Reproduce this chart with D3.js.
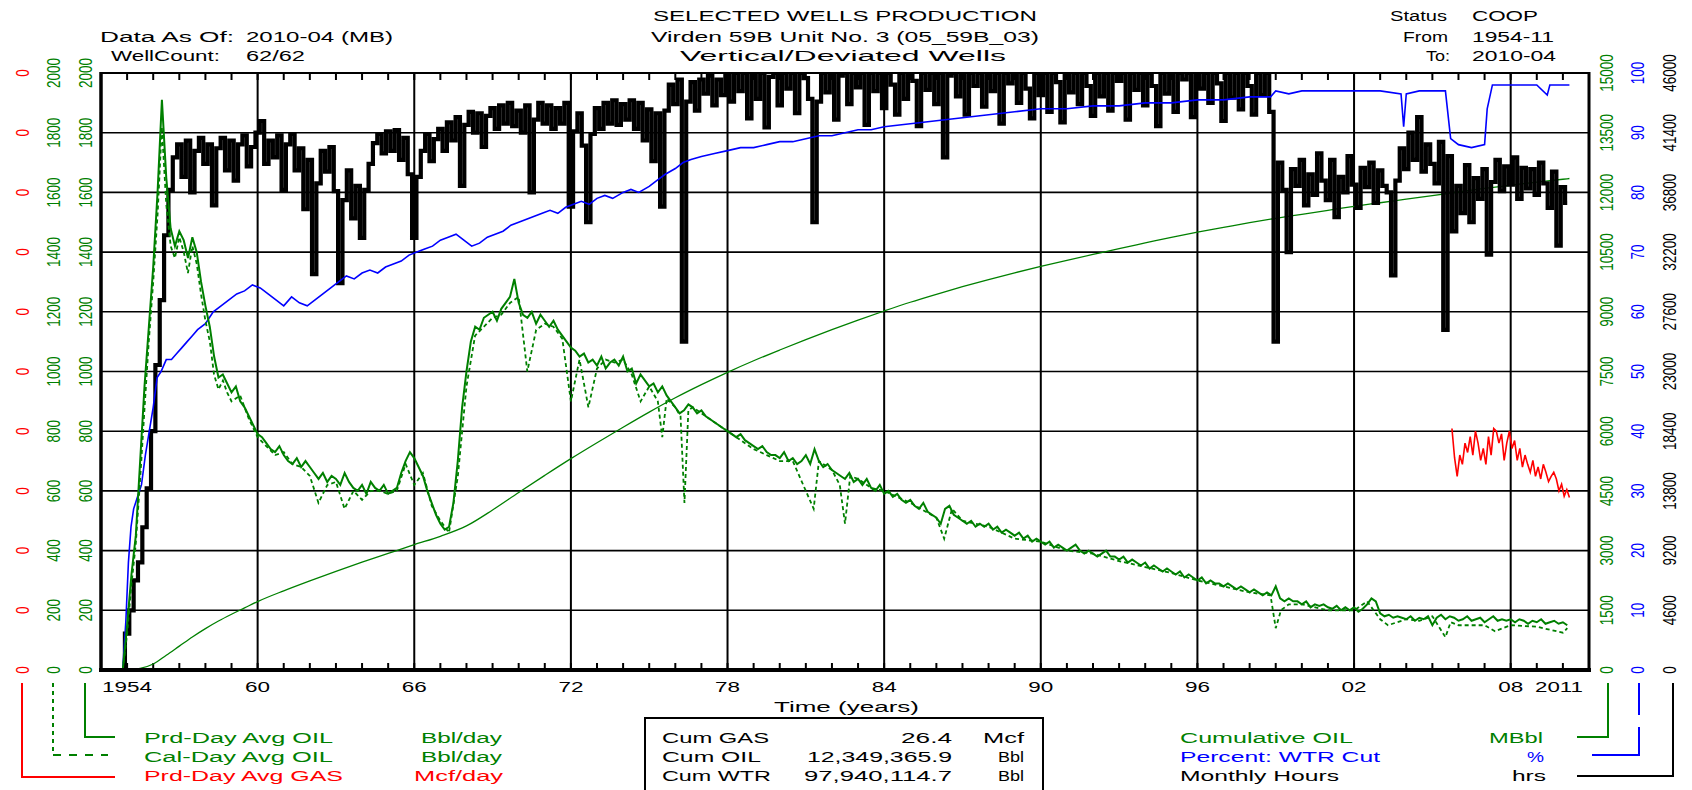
<!DOCTYPE html>
<html><head><meta charset="utf-8">
<script src="https://cdn.jsdelivr.net/npm/d3@7/dist/d3.min.js"></script>
<style>
body{margin:0;background:#fff;}
text{font-family:"Liberation Sans",Arial,sans-serif;}
</style>
</head><body>
<svg id="chart" width="1692" height="790"></svg>
<script>
// ---------------- DATA ----------------
// Monthly hours & producing-day oil, sampled every 2 months from 1954-11
const seriesStart = [1954, 11];
const stepMonths = 2;
const hours = [
0,2800,4600,6900,8300,11000,
14000,18400,23500,28500,33500,37000,
39500,40500,38000,40800,36800,40000,
41000,39000,40500,35800,40200,41000,
38500,40800,37700,40500,41200,38800,
40300,41400,42300,39000,40800,39500,
41200,37000,40500,41300,38500,40200,
35500,39300,30500,37500,40000,38400,
40300,36900,29800,36200,38500,34800,
37300,33300,37000,39000,40600,41300,
39800,41500,40000,41600,39300,41000,
38200,33300,38000,40000,41300,39200,
40900,41700,40000,42200,40800,42600,
37300,42000,43000,41400,42900,40300,
42700,43300,41700,43500,42100,43700,
41900,43100,41400,43500,36800,42400,
43700,42100,43500,41700,43300,42100,
43700,35700,41500,42900,40400,34500,
41300,43300,41700,43700,42100,43900,
42000,43600,42400,43900,41700,43700,
40800,43200,39200,42900,35700,43100,
45100,43600,45500,25300,43800,45300,
43100,45500,44400,45800,43500,45500,
44300,46000,43800,46000,44600,46000,
42500,46000,44000,46000,41800,45700,
46000,43500,46000,44800,46000,42900,
46000,45600,44000,34500,43800,46000,
44500,46000,42400,45800,46000,43600,
46000,44900,46000,42000,46000,44600,
46000,43300,46000,45100,42800,46000,
44000,46000,45400,41900,46000,44700,
46000,43600,46000,39500,45800,46000,
44200,46000,42800,46000,45000,46000,
43400,46000,44600,46000,42100,46000,
45200,46000,43700,46000,44800,42500,
46000,44300,46000,43000,46000,45300,
42200,46000,44500,46000,43600,46000,
45000,42700,46000,44200,46000,43100,
46000,45400,46000,42400,46000,44700,
46000,43500,46000,45000,41900,46000,
44400,46000,43000,46000,45500,46000,
42600,46000,44800,46000,43700,46000,
45200,42300,46000,44100,46000,43200,
46000,45000,42800,46000,44300,46000,
43000,25300,39100,37000,32200,38600,
37300,39300,35800,38200,36600,39800,
37700,36200,39300,34900,38000,36800,
39600,37400,35600,38700,37200,39100,
36000,38500,37300,36800,30400,37700,
40200,38600,41400,39300,42600,38400,
40500,39000,37500,40700,26200,39600,
33800,37300,35200,38900,34500,37900,
36300,38600,32000,37600,39300,36900,
38800,37400,39500,36300,38700,37100,
38600,36600,39100,37500,35600,38400,
32700,37200,36000];

const prdOil = [
0,150,320,450,700,950,
1150,1350,1600,1910,1650,1480,
1420,1470,1440,1380,1450,1400,
1300,1220,1150,1050,980,990,
960,930,950,900,880,850,
820,790,780,760,740,730,
750,720,700,690,710,680,
700,680,660,640,660,630,
650,640,620,660,630,610,
600,620,590,630,610,600,
620,590,600,610,660,700,
730,710,680,650,600,560,
520,490,470,480,560,700,
880,1000,1100,1150,1140,1180,
1190,1200,1170,1210,1230,1250,
1310,1230,1190,1180,1200,1160,
1190,1170,1150,1170,1140,1120,
1100,1080,1070,1050,1060,1030,
1040,1020,1050,1010,1030,1040,
1020,1050,1000,1010,960,990,
970,950,960,930,950,920,
900,880,860,870,890,880,
860,870,850,840,830,820,
810,800,790,780,790,770,
760,750,740,750,730,720,
720,710,730,700,710,690,
700,720,690,740,700,680,
690,670,660,650,640,660,
630,640,620,640,610,600,
620,590,600,580,590,570,
560,570,550,540,560,530,
520,510,490,540,550,520,
510,500,490,500,480,490,
480,490,470,480,460,470,
460,450,460,440,450,430,
440,430,420,430,410,420,
410,400,410,420,400,390,
400,390,380,390,400,380,
380,370,380,360,370,360,
350,360,340,350,340,330,
340,330,320,330,310,320,
310,300,310,290,300,290,
290,280,290,280,270,280,
270,260,270,260,250,260,
250,280,240,230,240,230,
230,220,230,210,220,215,
220,210,205,215,200,210,
200,210,195,205,220,240,
230,190,180,185,175,180,
175,170,180,165,175,170,
180,150,175,185,170,180,
175,165,170,180,165,170,
175,160,170,180,165,170,
165,170,160,170,165,155,
165,160,170,155,160,165,
155,160,150];

// [year, value] pairs
const calOil = [[1954.83,0],[1955.0,120],[1955.17,290],[1955.33,420],[1955.5,640],[1955.67,880],[1955.83,1100],[1956.0,1300],[1956.17,1530],[1956.33,1820],[1956.5,1560],[1956.67,1420],[1956.83,1380],[1957.0,1450],[1957.17,1400],[1957.33,1330],[1957.5,1420],[1957.67,1360],[1957.83,1260],[1958.0,1170],[1958.17,1100],[1958.33,990],[1958.5,940],[1958.67,970],[1958.83,930],[1959.0,900],[1959.33,920],[1959.67,840],[1960.0,780],[1960.33,750],[1960.67,720],[1961.0,730],[1961.33,690],[1961.67,680],[1962.0,650],[1962.33,560],[1962.67,620],[1963.0,630],[1963.33,540],[1963.67,600],[1964.0,570],[1964.33,600],[1964.67,600],[1965.0,590],[1965.33,600],[1965.67,690],[1966.0,620],[1966.33,660],[1966.67,550],[1967.0,500],[1967.33,460],[1967.67,650],[1968.0,950],[1968.33,1120],[1968.67,1150],[1969.0,1180],[1969.33,1190],[1969.67,1230],[1970.0,1250],[1970.33,1000],[1970.67,1140],[1971.0,1160],[1971.33,1150],[1971.67,1110],[1972.0,900],[1972.33,1040],[1972.67,880],[1973.0,1010],[1973.33,1040],[1973.67,1030],[1974.0,1040],[1974.33,990],[1974.67,900],[1975.0,950],[1975.33,900],[1975.5,780],[1975.67,910],[1976.0,880],[1976.2,850],[1976.35,560],[1976.5,870],[1976.67,880],[1977.0,860],[1977.5,830],[1978.0,800],[1978.5,770],[1979.0,740],[1979.5,720],[1980.0,700],[1980.5,700],[1981.3,540],[1981.5,700],[1982.0,670],[1982.3,620],[1982.5,490],[1982.7,650],[1983.0,640],[1983.5,610],[1984.0,600],[1985.0,560],[1986.0,510],[1986.3,440],[1986.6,540],[1987.0,500],[1988.0,480],[1989.0,440],[1990.0,430],[1991.0,400],[1992.0,390],[1993.0,365],[1994.0,345],[1995.0,325],[1996.0,300],[1997.0,280],[1998.0,260],[1998.8,250],[1999.0,140],[1999.2,200],[1999.5,220],[2000.0,220],[2001.0,200],[2002.0,200],[2002.5,230],[2003.0,170],[2003.3,150],[2004.0,170],[2004.5,165],[2005.0,180],[2005.5,110],[2005.7,160],[2006.0,150],[2007.0,150],[2007.4,130],[2008.0,150],[2009.0,145],[2010.0,125],[2010.17,140]];

const waterCut = [[1954.83,0],[1954.95,8],[1955.05,18],[1955.15,24],[1955.25,27],[1955.4,29],[1955.55,31],[1955.7,36],[1955.85,40],[1956.0,44],[1956.15,49],[1956.3,50],[1956.5,52],[1956.7,52],[1956.9,53],[1957.1,54],[1957.3,55],[1957.5,56],[1957.7,57],[1958.0,58],[1958.3,60],[1958.6,61],[1958.9,62],[1959.2,63],[1959.5,63.5],[1959.8,64.5],[1960.1,64],[1960.4,63],[1960.7,62],[1961.0,61],[1961.3,62.5],[1961.6,61.5],[1961.9,61],[1962.2,62],[1962.5,63],[1962.8,64],[1963.1,65],[1963.4,66],[1963.7,65.5],[1964.0,66.5],[1964.3,67],[1964.6,66.5],[1964.9,67.5],[1965.2,68],[1965.5,68.5],[1965.8,69.5],[1966.1,70],[1966.4,70.5],[1966.7,71],[1967.0,72],[1967.3,72.5],[1967.6,73],[1967.9,72],[1968.2,71],[1968.5,71.5],[1968.8,72.5],[1969.1,73],[1969.4,73.5],[1969.7,74.5],[1970.0,75],[1970.3,75.5],[1970.6,76],[1970.9,76.5],[1971.2,77],[1971.5,76.5],[1971.8,77.5],[1972.1,78],[1972.4,78.5],[1972.7,78],[1973.0,79],[1973.3,79.5],[1973.6,79],[1974.0,80],[1974.3,80.5],[1974.6,80],[1975.0,81],[1975.3,82],[1975.6,83],[1976.0,84],[1976.3,85],[1976.6,85.5],[1977.0,86],[1977.5,86.5],[1978.0,87],[1978.5,87.5],[1979.0,87.5],[1979.5,88],[1980.0,88.5],[1980.5,88.5],[1981.0,89],[1981.5,89.5],[1982.0,89.5],[1982.5,90],[1983.0,90.5],[1983.5,90.5],[1984.0,91],[1985.0,91.5],[1986.0,92],[1987.0,92.5],[1988.0,93],[1989.0,93.5],[1990.0,94],[1991.0,94],[1992.0,94.5],[1993.0,94.5],[1994.0,95],[1995.0,95],[1996.0,95.5],[1997.0,95.5],[1998.0,96],[1998.8,96],[1999.0,97],[1999.5,96.5],[2000.0,97],[2001.0,97],[2002.0,97],[2003.0,97],[2003.8,96.5],[2003.9,91],[2004.0,96.5],[2004.5,97],[2005.0,97],[2005.5,97],[2005.7,89],[2006.0,88],[2006.5,87.5],[2007.0,88],[2007.1,94],[2007.3,98],[2008.0,98],[2009.0,98],[2009.4,96.3],[2009.5,98],[2010.0,98],[2010.25,98]];

const cumOil = [[1954.83,0],[1955.5,40],[1956,150],[1956.5,370],[1957,600],[1957.5,830],[1958,1040],[1958.5,1230],[1959,1400],[1959.5,1560],[1960,1720],[1961,1990],[1962,2240],[1963,2480],[1964,2710],[1965,2930],[1966,3150],[1967,3360],[1968,3620],[1969,4020],[1970,4460],[1971,4890],[1972,5310],[1973,5710],[1974,6100],[1975,6480],[1976,6840],[1977,7170],[1978,7480],[1979,7770],[1980,8040],[1981,8300],[1982,8550],[1983,8790],[1984,9020],[1985,9240],[1986,9440],[1987,9630],[1988,9810],[1989,9980],[1990,10140],[1991,10290],[1992,10440],[1993,10590],[1994,10730],[1995,10870],[1996,11000],[1997,11120],[1998,11240],[1999,11350],[2000,11450],[2001,11550],[2002,11650],[2003,11740],[2004,11830],[2005,11920],[2006,12010],[2007,12100],[2008,12180],[2009,12260],[2010,12330],[2010.25,12349]];

const prdGas = [[2005.75,0.0182],[2005.85,0.0160],[2005.95,0.0146],[2006.05,0.0162],[2006.15,0.0155],[2006.25,0.0171],[2006.35,0.0164],[2006.45,0.0176],[2006.55,0.0162],[2006.65,0.0180],[2006.75,0.0171],[2006.85,0.0158],[2006.95,0.0167],[2007.05,0.0155],[2007.15,0.0176],[2007.25,0.0162],[2007.35,0.0182],[2007.45,0.0180],[2007.55,0.0171],[2007.65,0.0178],[2007.75,0.0158],[2007.85,0.0171],[2007.95,0.0180],[2008.05,0.0167],[2008.15,0.0173],[2008.25,0.0158],[2008.35,0.0167],[2008.45,0.0153],[2008.55,0.0162],[2008.65,0.0155],[2008.75,0.0149],[2008.85,0.0158],[2008.95,0.0146],[2009.05,0.0153],[2009.15,0.0144],[2009.25,0.0155],[2009.35,0.0149],[2009.45,0.0142],[2009.55,0.0146],[2009.65,0.0149],[2009.75,0.0144],[2009.85,0.0135],[2009.95,0.0140],[2010.05,0.0131],[2010.15,0.0136],[2010.25,0.0130]];

// axes
const oilTicks = [0,200,400,600,800,1000,1200,1400,1600,1800,2000];
const gasTicks = [0,0.0045,0.009,0.0135,0.018,0.0225,0.027,0.0315,0.036,0.0405,0.045];
const cumTicks = [0,1500,3000,4500,6000,7500,9000,10500,12000,13500,15000];
const cutTicks = [0,10,20,30,40,50,60,70,80,90,100];
const hourTicks = [0,4600,9200,13800,18400,23000,27600,32200,36800,41400,46000];
const yearMajor = [1960,1966,1972,1978,1984,1990,1996,2002,2008];
const yearMajorLabels = ["60","66","72","78","84","90","96","02","08"];
const yearDomain = [1954, 2011];

// ---------------- LAYOUT ----------------
const L = 101, R = 1589, T = 73, B = 670;
const GREEN = "#008000", RED = "#ff0000", BLUE = "#0000ff", BLACK = "#000";
const svg = d3.select("#chart");

const x = d3.scaleLinear().domain(yearDomain).range([L, R]);
const yOil = d3.scaleLinear().domain([0, 2000]).range([B, T]);
const yGas = d3.scaleLinear().domain([0, 0.045]).range([B, T]);
const yCum = d3.scaleLinear().domain([0, 15000]).range([B, T]);
const yCut = d3.scaleLinear().domain([0, 100]).range([B, T]);
const yHrs = d3.scaleLinear().domain([0, 46000]).range([B, T]);

const t0 = seriesStart[0] + (seriesStart[1] - 1) / 12;
const monthlyYear = i => t0 + i * stepMonths / 12;

function txt(g, s, px, py, opt) {
  opt = opt || {};
  const t = g.append("text").attr("x", px).attr("y", py).text(s)
    .attr("font-size", opt.size || 14)
    .attr("fill", opt.fill || BLACK)
    .attr("text-anchor", opt.anchor || "start");
  if (opt.len) t.attr("textLength", opt.len).attr("lengthAdjust", "spacingAndGlyphs");
  return t;
}

// clip
svg.append("defs").append("clipPath").attr("id", "clip")
  .append("rect").attr("x", L).attr("y", T - 1).attr("width", R - L).attr("height", B - T + 1);

// grid
const grid = svg.append("g");
grid.selectAll("line.h").data(oilTicks.slice(1, -1)).join("line")
  .attr("x1", L).attr("x2", R).attr("y1", d => yOil(d)).attr("y2", d => yOil(d))
  .attr("stroke", BLACK).attr("stroke-width", 1.6);
grid.selectAll("line.v").data(yearMajor).join("line")
  .attr("x1", d => x(d)).attr("x2", d => x(d)).attr("y1", T).attr("y2", B)
  .attr("stroke", BLACK).attr("stroke-width", 2);

// minor yearly ticks (top & bottom)
const years = d3.range(yearDomain[0] + 1, yearDomain[1]);
grid.selectAll("line.tt").data(years).join("line")
  .attr("x1", d => x(d)).attr("x2", d => x(d)).attr("y1", T).attr("y2", T + 7)
  .attr("stroke", BLACK).attr("stroke-width", 2);
grid.selectAll("line.tb").data(years).join("line")
  .attr("x1", d => x(d)).attr("x2", d => x(d)).attr("y1", B).attr("y2", B - 7)
  .attr("stroke", BLACK).attr("stroke-width", 2);

// series
const plot = svg.append("g").attr("clip-path", "url(#clip)");
const lineOf = (ys, curve) => d3.line().x(d => x(d[0])).y(d => ys(d[1])).curve(curve || d3.curveLinear);

plot.append("path").datum(cumOil).attr("d", lineOf(yCum, d3.curveMonotoneX))
  .attr("fill", "none").attr("stroke", GREEN).attr("stroke-width", 1.3);
plot.append("path").datum(hours.map((v, i) => [monthlyYear(i), v])).attr("d", lineOf(yHrs, d3.curveStep))
  .attr("fill", "none").attr("stroke", BLACK).attr("stroke-width", 4.2);
plot.append("path").datum(waterCut).attr("d", lineOf(yCut))
  .attr("fill", "none").attr("stroke", BLUE).attr("stroke-width", 1.6);
plot.append("path").datum(calOil).attr("d", lineOf(yOil))
  .attr("fill", "none").attr("stroke", GREEN).attr("stroke-width", 1.8).attr("stroke-dasharray", "4,3");
plot.append("path").datum(prdOil.map((v, i) => [monthlyYear(i), v])).attr("d", lineOf(yOil))
  .attr("fill", "none").attr("stroke", GREEN).attr("stroke-width", 2);
plot.append("path").datum(prdGas).attr("d", lineOf(yGas))
  .attr("fill", "none").attr("stroke", RED).attr("stroke-width", 1.6);

// frame
const fr = svg.append("g").attr("stroke", BLACK).attr("fill", "none");
fr.append("line").attr("x1", L).attr("x2", R).attr("y1", T).attr("y2", T).attr("stroke-width", 2);
fr.append("line").attr("x1", L - 2).attr("x2", R + 2).attr("y1", B).attr("y2", B).attr("stroke-width", 4);
fr.append("line").attr("x1", L).attr("x2", L).attr("y1", T - 1).attr("y2", B).attr("stroke-width", 3.5);
fr.append("line").attr("x1", R).attr("x2", R).attr("y1", T - 1).attr("y2", B).attr("stroke-width", 3);

// rotated y tick labels
function yLabels(ticks, scale, px, color, fmt) {
  const g = svg.append("g");
  g.selectAll("text").data(ticks).join("text")
    .attr("transform", d => `translate(${px},${scale(d)}) scale(1.4,1) rotate(-90)`)
    .attr("text-anchor", "middle").attr("dominant-baseline", "central")
    .attr("font-size", 13.5).attr("fill", color)
    .text(d => fmt(d));
}
const f0 = d3.format(".0f");
yLabels(gasTicks, yGas, 22, RED, f0);
yLabels(oilTicks, yOil, 53, GREEN, f0);
yLabels(oilTicks, yOil, 85, GREEN, f0);
yLabels(cumTicks, yCum, 1606, GREEN, f0);
yLabels(cutTicks, yCut, 1637, BLUE, f0);
yLabels(hourTicks, yHrs, 1669, BLACK, f0);

// x labels
const xl = svg.append("g");
txt(xl, String(yearDomain[0]), x(yearDomain[0]) + 1, 692, {size: 15, len: 50});
yearMajor.forEach((yr, i) => txt(xl, yearMajorLabels[i], x(yr), 692, {size: 15, len: 25, anchor: "middle"}));
txt(xl, String(yearDomain[1]), x(yearDomain[1]) - 6, 692, {size: 15, len: 48, anchor: "end"});
txt(xl, "Time (years)", 774, 712, {size: 14, len: 145});

// header
const hd = svg.append("g");
txt(hd, "SELECTED WELLS PRODUCTION", 653, 21, {len: 384});
txt(hd, "Virden 59B Unit No. 3 (05_59B_03)", 651, 42, {len: 388});
txt(hd, "Vertical/Deviated Wells", 680, 61, {len: 326});
txt(hd, "Data As Of:", 100, 42, {len: 134});
txt(hd, "2010-04 (MB)", 246, 42, {len: 147});
txt(hd, "WellCount:", 111, 61, {len: 109});
txt(hd, "62/62", 246, 61, {len: 59});
txt(hd, "Status", 1390, 21, {len: 57});
txt(hd, "COOP", 1472, 21, {len: 66});
txt(hd, "From", 1403, 42, {len: 45});
txt(hd, "1954-11", 1472, 42, {len: 82});
txt(hd, "To:", 1426, 61, {len: 24});
txt(hd, "2010-04", 1472, 61, {len: 84});

// legend left
const lg = svg.append("g");
const rows = [743, 762, 781];
txt(lg, "Prd-Day Avg OIL", 144, rows[0], {fill: GREEN, len: 189});
txt(lg, "Bbl/day", 421, rows[0], {fill: GREEN, len: 81});
txt(lg, "Cal-Day Avg OIL", 144, rows[1], {fill: GREEN, len: 189});
txt(lg, "Bbl/day", 421, rows[1], {fill: GREEN, len: 81});
txt(lg, "Prd-Day Avg GAS", 144, rows[2], {fill: RED, len: 199});
txt(lg, "Mcf/day", 414, rows[2], {fill: RED, len: 89});

const br = svg.append("g").attr("fill", "none");
br.append("path").attr("d", "M85,683 V737 H115").attr("stroke", GREEN).attr("stroke-width", 2);
br.append("path").attr("d", "M53,683 V755").attr("stroke", GREEN).attr("stroke-width", 2).attr("stroke-dasharray", "4,4");
br.append("path").attr("d", "M53,755 H108").attr("stroke", GREEN).attr("stroke-width", 2).attr("stroke-dasharray", "8,8");
br.append("path").attr("d", "M22,683 V777 H115").attr("stroke", RED).attr("stroke-width", 2);
br.append("path").attr("d", "M1608,683 V737 H1577").attr("stroke", GREEN).attr("stroke-width", 2);
br.append("path").attr("d", "M1639,683 V755 H1592").attr("stroke", BLUE).attr("stroke-width", 2).attr("stroke-dasharray", "32,12,200");
br.append("path").attr("d", "M1673,683 V776 H1577").attr("stroke", BLACK).attr("stroke-width", 2);

// legend right
txt(lg, "Cumulative OIL", 1180, rows[0], {fill: GREEN, len: 173});
txt(lg, "MBbl", 1543, rows[0], {fill: GREEN, len: 54, anchor: "end"});
txt(lg, "Percent: WTR Cut", 1180, rows[1], {fill: BLUE, len: 200});
txt(lg, "%", 1544, rows[1], {fill: BLUE, len: 17, anchor: "end"});
txt(lg, "Monthly Hours", 1180, rows[2], {fill: BLACK, len: 159});
txt(lg, "hrs", 1546, rows[2], {fill: BLACK, len: 34, anchor: "end"});

// cum box
const bx = svg.append("g");
bx.append("rect").attr("x", 645).attr("y", 718).attr("width", 398).attr("height", 80)
  .attr("fill", "none").attr("stroke", BLACK).attr("stroke-width", 2);
const boxRows = [["Cum GAS", "26.4", "Mcf", 107, 51], ["Cum OIL", "12,349,365.9", "Bbl", 99, 145], ["Cum WTR", "97,940,114.7", "Bbl", 109, 148]];
boxRows.forEach((r, i) => {
  txt(bx, r[0], 662, rows[i], {len: r[3]});
  txt(bx, r[1], 952, rows[i], {len: r[4], anchor: "end"});
  txt(bx, r[2], 1024, rows[i], {len: r[2] === "Mcf" ? 41 : 26, anchor: "end"});
});
</script>
</body></html>
